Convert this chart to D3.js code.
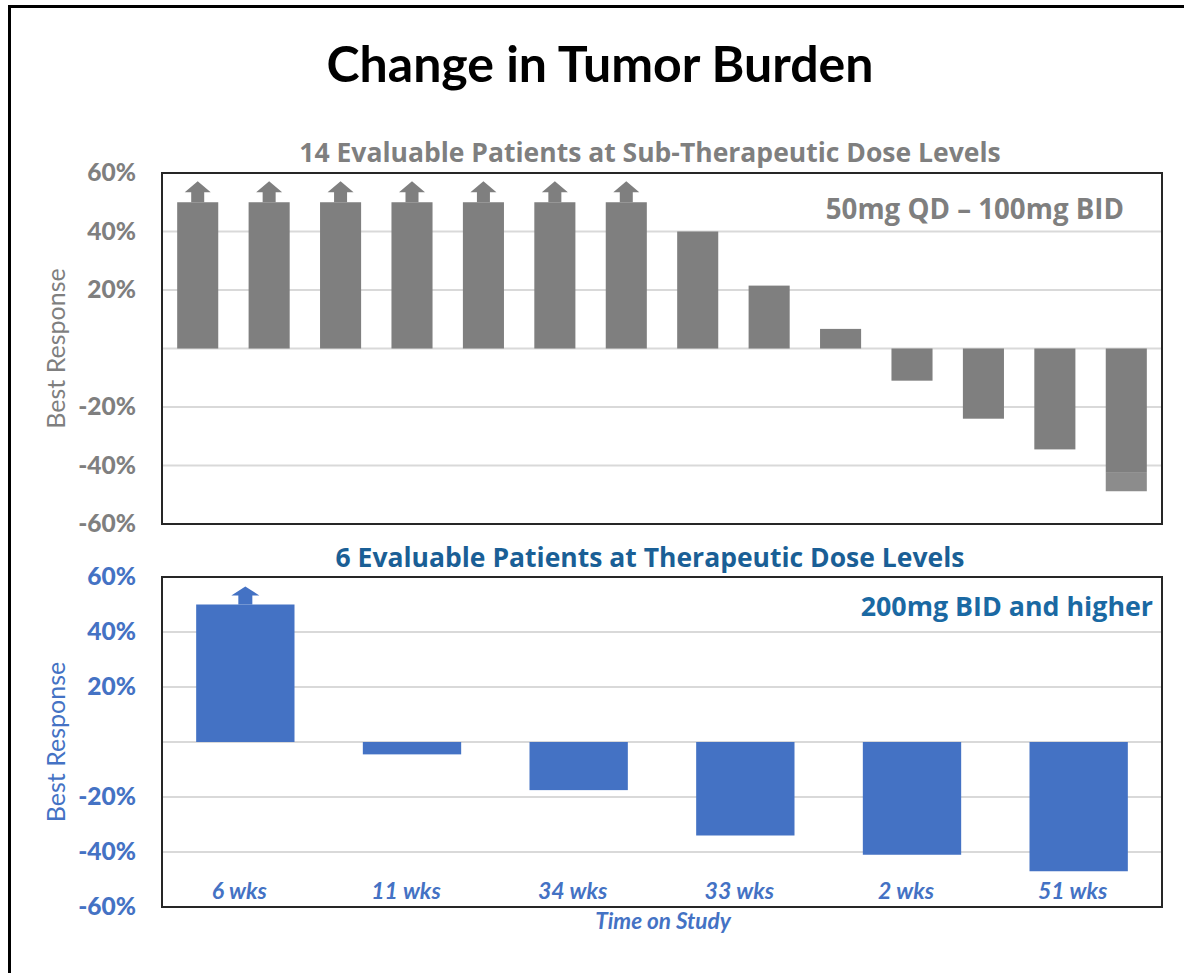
<!DOCTYPE html>
<html>
<head>
<meta charset="utf-8">
<script src="https://cdn.jsdelivr.net/npm/d3@7"></script>
<style>
  html, body { margin: 0; padding: 0; background: #fff; }
  svg { display: block; }
  text { font-family: Lato, "Open Sans", sans-serif; }
</style>
</head>
<body>
<svg id="chart" width="1184" height="973"></svg>
<script>
// данные верхнего графика (субтерапевтические дозы)
const topPatients = d3.range(1, 15).map(String)
const topValues = [50, 50, 50, 50, 50, 50, 50, 40, 21.5, 6.7, -11, -24, -34.5, -42.5]
const topArrows = [true, true, true, true, true, true, true, false, false, false, false, false, false, false]
const topTail = [null, null, null, null, null, null, null, null, null, null, null, null, null, -48.8]

// данные нижнего графика (терапевтические дозы)
const bottomWeeks = ["6 wks", "11 wks", "34 wks", "33 wks", "2 wks", "51 wks"]
const bottomValues = [50, -4.5, -17.5, -34, -41, -47]
const bottomArrows = [true, false, false, false, false, false]

// подписи оси OY
const tickValues = [60, 40, 20, -20, -40, -60]
const gridValues = [40, 20, 0, -20, -40]

const svg = d3.select("#chart")

// внешняя рамка и заголовок
svg.append("rect")
    .attr("x", 9.5).attr("y", 6.5)
    .attr("width", 1200).attr("height", 1000)
    .style("fill", "none")
    .style("stroke", "#000")
    .style("stroke-width", 3)

svg.append("text")
    .attr("x", 600).attr("y", 82)
    .attr("text-anchor", "middle")
    .style("font-size", "50px")
    .style("font-weight", "bold")
    .style("fill", "#000")
    .text("Change in Tumor Burden")

function drawPanel(opts) {
    const area = opts.area
    const g = svg.append("g")

    let scX = d3.scaleBand()
        .domain(opts.categories)
        .range([area.x, area.x + area.width])
        .paddingInner(opts.padding)
        .paddingOuter(opts.padding / 2)

    let scY = d3.scaleLinear()
        .domain([-60, 60])
        .range([area.y + area.height, area.y])

    // сетка
    g.selectAll(".grid")
        .data(gridValues)
        .enter()
        .append("line")
        .attr("x1", area.x).attr("x2", area.x + area.width)
        .attr("y1", d => scY(d)).attr("y2", d => scY(d))
        .style("stroke", "#d9d9d9")
        .style("stroke-width", 2)

    // ось OY — только подписи
    let axisY = d3.axisLeft(scY)
        .tickValues(tickValues)
        .tickFormat(d => d + "%")
        .tickSize(0)
        .tickPadding(26)

    let ax = g.append("g")
        .attr("transform", `translate(${area.x}, 0)`)
        .call(axisY)
    ax.select(".domain").remove()
    ax.selectAll("text")
        .style("font-family", "Lato, sans-serif")
        .style("font-size", "24.5px")
        .style("font-weight", "900")
        .style("fill", opts.axisColor)

    // подпись оси
    g.append("text")
        .attr("transform", `translate(${area.x - 106}, ${scY(0)}) rotate(-90)`)
        .attr("text-anchor", "middle")
        .attr("dy", "0.35em")
        .style("font-size", "25px")
        .style("fill", opts.axisColor)
        .text("Best Response")

    // столбцы
    const data = opts.categories.map((c, i) => ({ label: c, value: opts.values[i], arrow: opts.arrows[i], tail: opts.tail ? opts.tail[i] : null }))

    g.selectAll(".bar")
        .data(data)
        .enter()
        .append("rect")
        .attr("x", d => scX(d.label))
        .attr("width", scX.bandwidth())
        .attr("y", d => scY(Math.max(0, d.value)))
        .attr("height", d => Math.abs(scY(d.value) - scY(0)))
        .style("fill", opts.barColor)

    // продолжение последнего столбца (светлее)
    g.selectAll(".tail")
        .data(data.filter(d => d.tail != null))
        .enter()
        .append("rect")
        .attr("x", d => scX(d.label))
        .attr("width", scX.bandwidth())
        .attr("y", d => scY(d.value))
        .attr("height", d => scY(d.tail) - scY(d.value))
        .style("fill", "#8c8c8c")

    // стрелки над столбцами
    const ar = opts.arrow
    g.selectAll(".arrow")
        .data(data.filter(d => d.arrow))
        .enter()
        .append("path")
        .attr("d", d => {
            const cx = scX(d.label) + scX.bandwidth() / 2
            const y0 = scY(d.value)
            return `M${cx - ar.shaft / 2},${y0} L${cx - ar.shaft / 2},${y0 - ar.shaftH}
                    L${cx - ar.head / 2},${y0 - ar.shaftH} L${cx},${y0 - ar.shaftH - ar.headH}
                    L${cx + ar.head / 2},${y0 - ar.shaftH} L${cx + ar.shaft / 2},${y0 - ar.shaftH}
                    L${cx + ar.shaft / 2},${y0} Z`
        })
        .style("fill", opts.barColor)

    // рамка области графика
    g.append("rect")
        .attr("x", area.x).attr("y", area.y)
        .attr("width", area.width).attr("height", area.height)
        .style("fill", "none")
        .style("stroke", "#262626")
        .style("stroke-width", 2)

    // подзаголовок
    g.append("text")
        .attr("x", 650).attr("y", opts.titleY)
        .attr("text-anchor", "middle")
        .style("font-family", "'Open Sans', sans-serif")
        .style("font-size", "26.5px")
        .style("font-weight", "bold")
        .style("fill", opts.titleColor)
        .text(opts.title)

    // доза
    g.append("text")
        .attr("x", opts.dose.x).attr("y", opts.dose.y)
        .attr("text-anchor", "end")
        .style("font-family", "'Open Sans', sans-serif")
        .style("font-size", opts.dose.size)
        .style("font-weight", "bold")
        .style("fill", opts.dose.color)
        .text(opts.dose.text)

    return [scX, scY]
}

// верхний график
drawPanel({
    area: { x: 162, y: 173, width: 1000, height: 351 },
    categories: topPatients,
    values: topValues,
    arrows: topArrows,
    tail: topTail,
    padding: 0.425,
    barColor: "#7f7f7f",
    axisColor: "#7f7f7f",
    titleColor: "#7f7f7f",
    title: "14 Evaluable Patients at Sub-Therapeutic Dose Levels",
    titleY: 162,
    dose: { x: 1124, y: 219, size: "27.7px", color: "#7f7f7f", text: "50mg QD \u2013 100mg BID" },
    arrow: { shaft: 13, head: 26, shaftH: 10, headH: 11 }
})

// нижний график
let [scX, scY] = drawPanel({
    area: { x: 162, y: 577, width: 1000, height: 330 },
    categories: bottomWeeks,
    values: bottomValues,
    arrows: bottomArrows,
    padding: 0.41,
    barColor: "#4472c4",
    axisColor: "#4472c4",
    titleColor: "#1a5f96",
    title: "6 Evaluable Patients at Therapeutic Dose Levels",
    titleY: 567,
    dose: { x: 1153, y: 616, size: "26.8px", color: "#1a69a3", text: "200mg BID and higher" },
    arrow: { shaft: 14, head: 28, shaftH: 9, headH: 9 }
})

// подписи категорий внутри области
svg.selectAll(".wk")
    .data(bottomWeeks)
    .enter()
    .append("text")
    .attr("x", d => scX(d) + scX.bandwidth() / 2 - 6)
    .attr("y", 899)
    .attr("text-anchor", "middle")
    .style("font-size", "23px")
    .style("font-weight", "bold")
    .style("font-style", "italic")
    .style("fill", "#4472c4")
    .text(d => d)

svg.append("text")
    .attr("x", 663).attr("y", 929)
    .attr("text-anchor", "middle")
    .style("font-size", "22.5px")
    .style("font-weight", "bold")
    .style("font-style", "italic")
    .style("fill", "#4472c4")
    .text("Time on Study")
</script>
</body>
</html>
